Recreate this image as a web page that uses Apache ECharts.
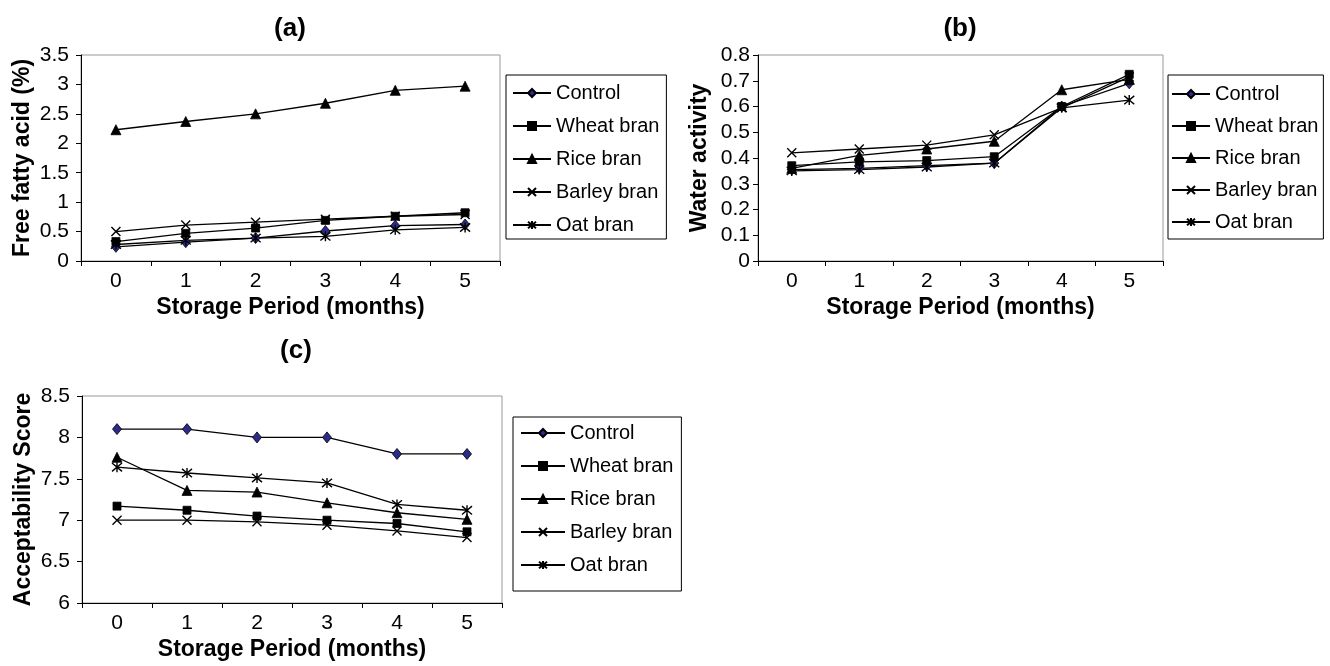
<!DOCTYPE html>
<html><head><meta charset="utf-8">
<script src="https://cdn.jsdelivr.net/npm/echarts@6/dist/echarts.min.js"></script>
<style>html,body{margin:0;padding:0;background:#fff}#c{width:1330px;height:666px}</style>
</head><body><div id="c"></div>
<script>
const months = ['0', '1', '2', '3', '4', '5'];
const seriesNames = ['Control', 'Wheat bran', 'Rice bran', 'Barley bran', 'Oat bran'];

// (a) Free fatty acid (%)
const ffaControl = [0.24, 0.32, 0.39, 0.51, 0.60, 0.62];
const ffaWheat   = [0.33, 0.47, 0.56, 0.69, 0.76, 0.82];
const ffaRice    = [2.23, 2.37, 2.50, 2.68, 2.90, 2.97];
const ffaBarley  = [0.50, 0.61, 0.66, 0.71, 0.76, 0.79];
const ffaOat     = [0.28, 0.35, 0.39, 0.42, 0.53, 0.57];

// (b) Water activity
const awControl = [0.355, 0.36, 0.37, 0.38, 0.60, 0.69];
const awWheat   = [0.37, 0.385, 0.39, 0.405, 0.60, 0.725];
const awRice    = [0.36, 0.41, 0.435, 0.465, 0.665, 0.705];
const awBarley  = [0.42, 0.435, 0.45, 0.49, 0.595, 0.715];
const awOat     = [0.35, 0.355, 0.365, 0.38, 0.595, 0.625];

// (c) Acceptability score
const accControl = [8.1, 8.1, 8.0, 8.0, 7.8, 7.8];
const accWheat   = [7.17, 7.12, 7.05, 7.0, 6.96, 6.86];
const accRice    = [7.76, 7.36, 7.34, 7.21, 7.09, 7.01];
const accBarley  = [7.0, 7.0, 6.98, 6.94, 6.87, 6.79];
const accOat     = [7.64, 7.57, 7.51, 7.45, 7.19, 7.12];

const panelTitles = ['(a)', '(b)', '(c)'];
const yNames = ['Free fatty acid (%)', 'Water activity', 'Acceptability Score'];
const xName = 'Storage Period (months)';

const FONT = "'Liberation Sans', Arial, sans-serif";
const markers = [
  {symbol: 'diamond', size: [9, 11], color: '#2b2b8c'},
  {symbol: 'rect', size: 8, color: '#000'},
  {symbol: 'triangle', size: 10, color: '#000'},
  {symbol: 'path://M0,0L10,10M10,0L0,10', size: 9, color: '#000'},
  {symbol: 'path://M0,0L10,10M10,0L0,10M5,-1L5,11', size: 10, color: '#000'}
];
const panelData = [
  [ffaControl, ffaWheat, ffaRice, ffaBarley, ffaOat],
  [awControl, awWheat, awRice, awBarley, awOat],
  [accControl, accWheat, accRice, accBarley, accOat]
];

const grids = [
  {left: 81, top: 55, width: 419, height: 206},
  {left: 758, top: 55, width: 405, height: 206},
  {left: 82, top: 396, width: 420, height: 207}
];
const yRanges = [
  {min: 0, max: 3.5, interval: 0.5, margin: 12},
  {min: 0, max: 0.8, interval: 0.1, margin: 8},
  {min: 6, max: 8.5, interval: 0.5, margin: 12}
];

const series = [];
panelData.forEach((arr, p) => {
  arr.forEach((vals, i) => {
    const m = markers[i];
    series.push({
      type: 'line', name: seriesNames[i], xAxisIndex: p, yAxisIndex: p,
      data: vals, symbol: m.symbol, symbolSize: m.size, showSymbol: true,
      showAllSymbol: true, animation: false,
      lineStyle: {color: '#000', width: 1.3},
      itemStyle: {color: m.color, borderColor: '#000', borderWidth: (i >= 3 ? 1.4 : 0.8)},
      emphasis: {disabled: true}
    });
  });
});

const titleCenters = [[290, 16], [960, 16], [296, 338]];
const legends = [
  {left: 506, top: 75, padding: [8, 7, 4, 6], itemGap: 13, itemWidth: 38},
  {left: 1168, top: 75, padding: [9, 5, 7, 3], itemGap: 12, itemWidth: 38},
  {left: 513, top: 417, padding: [6, 8, 16, 7], itemGap: 13, itemWidth: 44}
];

const option = {
  backgroundColor: '#fff',
  animation: false,
  textStyle: {fontFamily: FONT},
  title: panelTitles.map((t, i) => ({
    text: t, left: titleCenters[i][0], top: titleCenters[i][1], textAlign: 'center', padding: 0,
    textStyle: {fontFamily: FONT, fontSize: 26, fontWeight: 'bold', color: '#000'}
  })),
  legend: legends.map(l => ({
    orient: 'vertical', left: l.left, top: l.top, padding: l.padding, itemGap: l.itemGap,
    itemWidth: l.itemWidth, itemHeight: 10, borderColor: '#000', borderWidth: 1,
    selectedMode: false, data: seriesNames,
    textStyle: {fontFamily: FONT, fontSize: 20, color: '#000', lineHeight: 20}
  })),
  grid: grids.map(g => Object.assign({show: true, borderColor: '#999', borderWidth: 1, containLabel: false}, g)),
  xAxis: grids.map((g, i) => ({
    type: 'category', gridIndex: i, data: months, boundaryGap: true,
    name: xName, nameLocation: 'middle', nameGap: 35,
    nameTextStyle: {fontFamily: FONT, fontSize: 23, fontWeight: 'bold', color: '#000'},
    axisLine: {lineStyle: {color: '#000', width: 1}},
    axisTick: {show: true, length: 5, lineStyle: {color: '#000'}},
    axisLabel: {fontFamily: FONT, fontSize: 21, color: '#000', margin: 10},
    splitLine: {show: false}
  })),
  yAxis: yRanges.map((r, i) => ({
    type: 'value', gridIndex: i, min: r.min, max: r.max, interval: r.interval,
    name: yNames[i], nameLocation: 'middle', nameGap: 47, nameRotate: 90,
    nameTextStyle: {fontFamily: FONT, fontSize: 23, fontWeight: 'bold', color: '#000'},
    axisLine: {show: true, lineStyle: {color: '#000', width: 1}},
    axisTick: {show: true, length: 5, lineStyle: {color: '#000'}},
    axisLabel: {fontFamily: FONT, fontSize: 21, color: '#000', margin: r.margin},
    splitLine: {show: false}
  })),
  series: series
};

const chart = echarts.init(document.getElementById('c'), null, {renderer: 'canvas'});
chart.setOption(option);
</script>
</body></html>
